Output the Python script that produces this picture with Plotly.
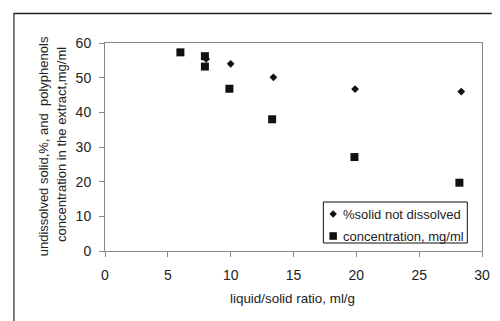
import plotly.graph_objects as go

# Data
conc_x = [6.0, 7.95, 7.95, 9.9, 13.3, 19.85, 28.2]
conc_y = [57.3, 56.2, 53.2, 46.8, 38.0, 27.1, 19.7]
solid_x = [8.05, 10.0, 13.4, 19.9, 28.35]
solid_y = [55.4, 54.0, 50.1, 46.7, 46.0]
x_ticks = [0, 5, 10, 15, 20, 25, 30]
y_ticks = [0, 10, 20, 30, 40, 50, 60]
legend_names = ["%solid not dissolved", "concentration, mg/ml"]

W, H = 500, 321
L, R, T, B = 105, 10, 43, 70
pw, ph = W - L - R, H - T - B


def px(xp):
    return (xp - L) / pw


def py(yp):
    return (H - B - yp) / ph


FONT = "Liberation Sans, Arial, sans-serif"

fig = go.Figure()
fig.add_trace(go.Scatter(x=solid_x, y=solid_y, mode="markers", name=legend_names[0],
                         marker=dict(symbol="diamond", size=6, color="#111"), showlegend=False))
fig.add_trace(go.Scatter(x=conc_x, y=conc_y, mode="markers", name=legend_names[1],
                         marker=dict(symbol="square", size=8, color="#111"), showlegend=False))

axis_common = dict(showgrid=False, zeroline=False, showline=True, linecolor="#888", linewidth=1,
                   mirror=True, ticks="outside", ticklen=5, tickcolor="#888",
                   tickfont=dict(family=FONT, size=14, color="#222"))
fig.update_xaxes(range=[0, 30], tickvals=x_ticks, ticklabelstandoff=6, **axis_common)
fig.update_yaxes(range=[0, 60], tickvals=y_ticks, ticklabelstandoff=5, **axis_common)

shapes = []
# outer frame (top and left edges)
shapes.append(dict(type="line", xref="paper", yref="paper", x0=px(11.5), x1=px(W), y0=py(13.5), y1=py(13.5),
                   line=dict(color="#222", width=1.5), layer="above"))
shapes.append(dict(type="line", xref="paper", yref="paper", x0=px(12), x1=px(12), y0=py(13), y1=py(H),
                   line=dict(color="#444", width=1.4), layer="above"))
# legend box
shapes.append(dict(type="rect", xref="paper", yref="paper", x0=px(328), x1=px(475), y0=py(202), y1=py(243),
                   line=dict(color="#111", width=1), fillcolor="white", layer="above"))
# legend symbols
dx, dy = 3.8 / pw, 3.8 / ph
cx, cy = px(338), py(214)
shapes.append(dict(type="path", xref="paper", yref="paper",
                   path=f"M {cx} {cy+dy} L {cx+dx} {cy} L {cx} {cy-dy} L {cx-dx} {cy} Z",
                   fillcolor="#111", line=dict(color="#111", width=0), layer="above"))
sx, sy = 3.8 / pw, 3.8 / ph
cx2, cy2 = px(338), py(236)
shapes.append(dict(type="rect", xref="paper", yref="paper", x0=cx2 - sx, x1=cx2 + sx, y0=cy2 - sy, y1=cy2 + sy,
                   fillcolor="#111", line=dict(color="#111", width=0), layer="above"))

annotations = [
    dict(text=legend_names[0], xref="paper", yref="paper", x=px(346), y=py(214), xanchor="left",
         yanchor="middle", showarrow=False, font=dict(family=FONT, size=13, color="#222")),
    dict(text=legend_names[1], xref="paper", yref="paper", x=px(346), y=py(236), xanchor="left",
         yanchor="middle", showarrow=False, font=dict(family=FONT, size=13, color="#222")),
    dict(text="undissolved solid,%, and  polyphenols", xref="paper", yref="paper", x=px(42), y=py(146),
         textangle=-90, showarrow=False, xanchor="center", yanchor="middle",
         font=dict(family=FONT, size=13, color="#222")),
    dict(text="concentration in the extract,mg/ml", xref="paper", yref="paper", x=px(60), y=py(144),
         textangle=-90, showarrow=False, xanchor="center", yanchor="middle",
         font=dict(family=FONT, size=13, color="#222")),
    dict(text="liquid/solid ratio, ml/g", xref="paper", yref="paper", x=px(296), y=py(298),
         showarrow=False, xanchor="center", yanchor="middle",
         font=dict(family=FONT, size=13.4, color="#222")),
]

fig.update_layout(width=W, height=H, margin=dict(l=L, r=R, t=T, b=B, pad=0),
                  plot_bgcolor="white", paper_bgcolor="white", shapes=shapes, annotations=annotations,
                  showlegend=False)

fig.write_html("out.html", config={"displayModeBar": False})
